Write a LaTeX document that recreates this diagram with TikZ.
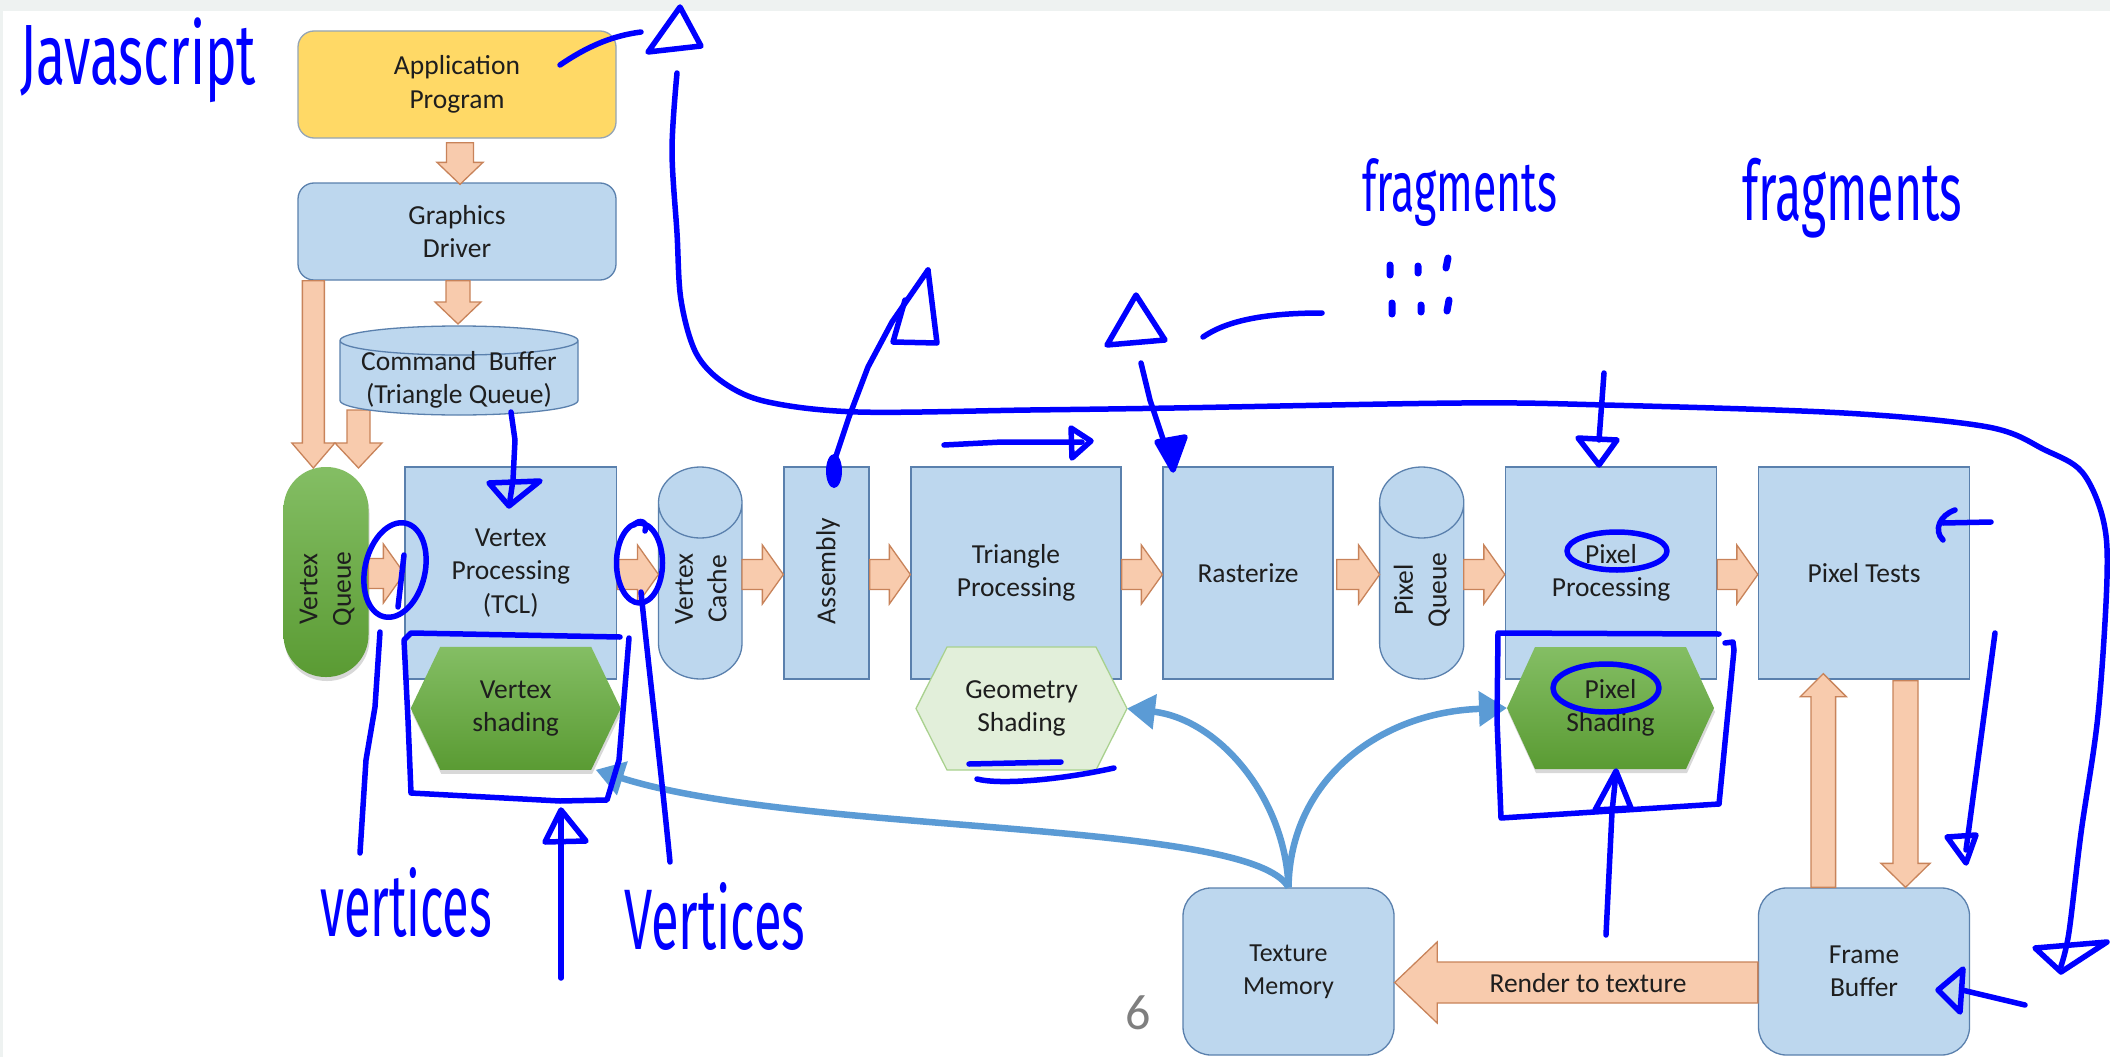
\documentclass[tikz,border=0pt]{standalone}
\usepackage{fontspec}
\setmainfont{Carlito}
\newfontfamily\handfont{Fira Sans}
\usepackage{graphicx}
\usetikzlibrary{calc,arrows.meta,shadows}

\definecolor{boxfill}{HTML}{BDD7EE}
\definecolor{boxline}{HTML}{5A80AD}
\definecolor{appfill}{HTML}{FFD966}
\definecolor{appline}{HTML}{95A5B5}
\definecolor{ofill}{HTML}{F8CBAD}
\definecolor{oline}{HTML}{C8835A}
\definecolor{gsfill}{HTML}{E2EFDA}
\definecolor{gsline}{HTML}{A9D18E}
\definecolor{gtop}{HTML}{84BE64}
\definecolor{gbot}{HTML}{5A9B33}
\definecolor{lblue}{HTML}{5B9BD5}
\definecolor{hblue}{HTML}{0000FF}
\definecolor{band}{HTML}{EEF2F1}
\definecolor{numgray}{HTML}{7F7F7F}
\definecolor{txt}{HTML}{1E1E1E}

\newcommand{\lblfont}{\fontsize{27.5pt}{33.5pt}\selectfont}

\tikzset{
  lbl/.style={font=\lblfont, text=txt, align=center, inner sep=0pt},
  sqbox/.style={lbl, draw=boxline, fill=boxfill, line width=1.3pt},
  appbox/.style={lbl, draw=appline, fill=appfill, line width=1.3pt, rounded corners=16pt},
  holder/.style={inner sep=0pt, outer sep=0pt},
  cylstyle/.style={draw=boxline, fill=boxfill, line width=1.3pt},
  oarrow/.style={draw=oline, fill=ofill, line width=1.3pt, line join=miter},
  greenfill/.style={top color=gtop, bottom color=gbot, draw=none,
     drop shadow={shadow xshift=1pt, shadow yshift=-4pt, opacity=0.3}},
  gsstyle/.style={fill=gsfill, draw=gsline, line width=1.3pt},
  texcurve/.style={draw=lblue, line width=6.5pt, -{Triangle[length=28pt,width=34pt]}},
  hand/.style={draw=hblue, line width=5.5pt, line cap=round, line join=round},
  handtxt/.style={text=hblue, font=\handfont, inner sep=0pt, anchor=north west},
}

% block arrows: #1 from, #2 to, #3 shaft half width, #4 head half width, #5 head length
\newcommand{\arrR}[5]{\draw[oarrow] let \p1=(#1), \p2=(#2) in
  (\x1,\y1+#3) -- (\x2-#5,\y1+#3) -- (\x2-#5,\y1+#4) -- (\x2,\y1) -- (\x2-#5,\y1-#4) -- (\x2-#5,\y1-#3) -- (\x1,\y1-#3) -- cycle;}
\newcommand{\arrL}[5]{\draw[oarrow] let \p1=(#1), \p2=(#2) in
  (\x1,\y1+#3) -- (\x2+#5,\y1+#3) -- (\x2+#5,\y1+#4) -- (\x2,\y1) -- (\x2+#5,\y1-#4) -- (\x2+#5,\y1-#3) -- (\x1,\y1-#3) -- cycle;}
\newcommand{\arrD}[5]{\draw[oarrow] let \p1=(#1), \p2=(#2) in
  (\x1-#3,\y1) -- (\x1-#3,\y2+#5) -- (\x1-#4,\y2+#5) -- (\x1,\y2) -- (\x1+#4,\y2+#5) -- (\x1+#3,\y2+#5) -- (\x1+#3,\y1) -- cycle;}
\newcommand{\arrU}[5]{\draw[oarrow] let \p1=(#1), \p2=(#2) in
  (\x1-#3,\y1) -- (\x1-#3,\y2-#5) -- (\x1-#4,\y2-#5) -- (\x1,\y2) -- (\x1+#4,\y2-#5) -- (\x1+#3,\y2-#5) -- (\x1+#3,\y1) -- cycle;}
% cylinder: #1 node, #2 x radius, #3 y radius
\newcommand{\cylshape}[3]{\path[cylstyle] let \p1=(#1.north west), \p2=(#1.south east) in
  (\x1,\y1-#3) -- (\x1,\y2+#3) arc[start angle=180, end angle=360, x radius=#2, y radius=#3]
  -- (\x2,\y1-#3) arc[start angle=0, end angle=180, x radius=#2, y radius=#3] -- cycle
  (\x1,\y1-#3) arc[start angle=180, end angle=360, x radius=#2, y radius=#3];}
% hexagon: #1 node, #2 inset, #3 style
\newcommand{\hexshape}[3]{\path[#3] let \p1=(#1.north west), \p2=(#1.south east), \p3=(#1.center) in
  (\x1,\y3) -- (\x1+#2,\y1) -- (\x2-#2,\y1) -- (\x2,\y3) -- (\x2-#2,\y2) -- (\x1+#2,\y2) -- cycle;}

\begin{document}
\begin{tikzpicture}[x=1pt,y=-1pt]
\useasboundingbox (0,0) rectangle (2110,1057);
\fill[white] (0,0) rectangle (2110,1057);
\fill[band] (0,0) rectangle (2110,11);
\fill[band] (0,0) rectangle (3,1057);

% ---------- top column ----------
\node[appbox, minimum width=318pt, minimum height=107pt] (app) at (457,84.5) {Application\\Program};
\node[sqbox, rounded corners=16pt, minimum width=318pt, minimum height=97pt] (gd) at (457,231.5) {Graphics\\Driver};

\node[holder, minimum width=238pt, minimum height=89pt] (cb) at (459,370.5) {};

% ---------- main row ----------
\node[holder, minimum width=85pt, minimum height=210pt, rounded corners=42pt, top color=gtop, bottom color=gbot,
      drop shadow={shadow xshift=1pt, shadow yshift=-4pt, opacity=0.3}] (vq) at (326,572) {};
\node[lbl, rotate=90] (vqt) at (327,589) {Vertex\\Queue};

\node[sqbox, minimum width=211.5pt, minimum height=212pt] (vp) at (510.75,573) {Vertex\\Processing\\(TCL)};
\node[holder, minimum width=83.5pt, minimum height=212pt] (vc) at (700.25,573) {};
\cylshape{vc}{41.75pt}{35.5pt}
\node[lbl, rotate=90] (vct) at (701,589) {Vertex\\Cache};
\node[sqbox, minimum width=85pt, minimum height=212pt] (asm) at (826.5,573) {};
\node[lbl, rotate=90] (asmt) at (828,571) {Assembly};
\node[sqbox, minimum width=210pt, minimum height=212pt] (tp) at (1016,573) {Triangle\\Processing};
\node[sqbox, minimum width=170pt, minimum height=212pt] (ras) at (1248,573) {Rasterize};
\node[holder, minimum width=84.2pt, minimum height=212pt] (pq) at (1421.7,573) {};
\cylshape{pq}{42.1pt}{35.5pt}
\node[lbl, rotate=90] (pqt) at (1422,590) {Pixel\\Queue};
\node[sqbox, minimum width=211pt, minimum height=212pt] (pp) at (1611,573) {Pixel\\Processing};
\node[sqbox, minimum width=211pt, minimum height=212pt] (pt) at (1864,573) {Pixel Tests};

% ---------- bottom ----------
\node[sqbox, rounded corners=28pt, minimum width=211pt, minimum height=167pt, font=\fontsize{26pt}{33pt}\selectfont] (tm) at (1288.5,971.5) {Texture\\Memory};
\node[sqbox, rounded corners=28pt, minimum width=211pt, minimum height=167pt] (fb) at (1864,971.5) {Frame\\Buffer};

% ---------- block arrows ----------
\arrD{$(app.south)+(3,4)$}{$(gd.north)+(0,2)$}{13.5pt}{23pt}{22pt}
\arrD{$(gd.south)+(1,0)$}{$(cb.north)+(0,-2)$}{12pt}{23pt}{22pt}
\arrD{$(gd.south west)+(16,0)$}{$(vq.north)+(0,1)$}{11pt}{21.5pt}{25pt}
\arrD{$(cb.south west)+(18.5,-5)$}{$(vq.north)+(0,1)$}{11.5pt}{23.5pt}{25pt}
\cylshape{cb}{119pt}{14.5pt}
\node[lbl] (cbt) at (459,380) {Command~~Buffer\\(Triangle Queue)};

\arrR{$(vq.east)+(0,1.5)$}{vp.west}{15pt}{29.5pt}{21pt}
\arrR{$(vp.east)+(0,1.5)$}{vc.west}{15pt}{29.5pt}{21pt}
\arrR{$(vc.east)+(0,1.5)$}{asm.west}{15pt}{29.5pt}{21pt}
\arrR{$(asm.east)+(0,1.5)$}{tp.west}{15pt}{29.5pt}{21pt}
\arrR{$(tp.east)+(0,1.5)$}{ras.west}{15pt}{29.5pt}{21pt}
\arrR{$(ras.east)+(3,1.5)$}{pq.west}{15pt}{29.5pt}{21pt}
\arrR{$(pq.east)+(0,1.5)$}{pp.west}{15pt}{29.5pt}{21pt}
\arrR{$(pp.east)+(0,1.5)$}{pt.west}{15pt}{29.5pt}{21pt}

\arrU{$(fb.north)+(-40.7,0)$}{$(pt.south)+(-40.7,-6)$}{12.3pt}{23pt}{23pt}
\arrD{$(pt.south)+(41.5,1)$}{fb.north}{12.5pt}{24.5pt}{24pt}
\arrL{$(fb.west)+(0,11)$}{tm.east}{20.5pt}{40.5pt}{42.5pt}
\node[lbl] (rtt) at (1588,983) {Render to texture};

% ---------- hexagons ----------
\node[holder, minimum width=210pt, minimum height=123pt] (vs) at (515.7,708.3) {};
\hexshape{vs}{29.5pt}{greenfill}
\node[lbl] (vst) at (vs) {Vertex\\shading};
\node[holder, minimum width=211pt, minimum height=123pt] (gs) at (1021.5,708.5) {};
\hexshape{gs}{31pt}{gsstyle}
\node[lbl] (gst) at (gs) {Geometry\\Shading};
\node[holder, minimum width=207pt, minimum height=122pt] (ps) at (1610.5,708) {};
\hexshape{ps}{28pt}{greenfill}
\node[lbl] (pst) at (ps) {Pixel\\Shading};

% ---------- texture connectors ----------
\draw[texcurve] (tm.north) .. controls +(-38,-68) and +(204,65) .. ($(vs.south east)+(-25,0)$);
\draw[texcurve] (tm.north) .. controls +(-3,-88) and +(93,11) .. (gs.east);
\draw[texcurve] (tm.north) .. controls +(1.5,-108) and +(-127,4) .. (ps.west);

\node[font=\fontsize{50pt}{50pt}\selectfont, text=numgray, inner sep=0pt] (pg) at (1138.5,1013) {6};

% ---------- hand-drawn annotations ----------
\node[handtxt] (js) at (20,18) {\resizebox*{236pt}{85pt}{Javascript}};
\node[handtxt] (fr1) at (1362,158) {\resizebox*{195pt}{68pt}{fragments}};
\node[handtxt] (fr2) at (1742,158) {\resizebox*{220pt}{80pt}{fragments}};
\node[handtxt] (vt1) at (320,867) {\resizebox*{172pt}{70pt}{vertices}};
\node[handtxt] (vt2) at (624,882) {\resizebox*{181pt}{68pt}{Vertices}};

\draw[hand] (560,65) .. controls (585,48) and (610,36) .. (641,32);
\draw[hand] (680,7) -- (648,52) -- (701,46) -- cycle;
\draw[hand] plot[smooth, tension=0.55] coordinates {(677,73) (672,150) (677,233) (681,300) (696,353) (724,383) (768,402) (858,412) (1030,410) (1174,408) (1461,403) (1605,405) (1844,413) (1988,427) (2045,450) (2082,472) (2103,519) (2107,578) (2098,715) (2081,833) (2069,932) (2061,966)};
\draw[hand] (2035,948) -- (2107,942) -- (2061,972) -- cycle;

\draw[hand] (834,462) -- (849,417) -- (868,367) -- (892,322) -- (928,270);
\draw[hand] (928,270) -- (937,343) -- (893,342) -- (905,300);
\fill[hblue] (834,471) ellipse [x radius=8, y radius=17];

\draw[hand] (1136,295) -- (1107,345) -- (1165,340) -- cycle;
\draw[hand] (1203,337) .. controls (1225,322) and (1260,313) .. (1322,313);
\draw[hand] (1141,363) -- (1150,400) -- (1165,445);
\draw[hand, fill=hblue] (1157,442) -- (1185,437) -- (1173,470) -- cycle;

\draw[hand, line width=7pt] (1390,265) -- (1390,275) (1418,266) -- (1418,273) (1448,258) -- (1446,268)
  (1392,303) -- (1392,314) (1421,305) -- (1421,312) (1449,300) -- (1447,311);

\draw[hand] (944,445) -- (1002,442) -- (1082,442);
\draw[hand] (1071,428) -- (1091,441) -- (1072,458) -- cycle;

\draw[hand] (1604,373) -- (1599,440);
\draw[hand] (1578,438) -- (1617,440) -- (1599,465) -- cycle;

\draw[hand] (511,412) -- (515,440) -- (513,480) -- (510,500);
\draw[hand] (489,483) -- (540,481) -- (509,506) -- cycle;

\draw[hand, rotate around={-13:(395,570)}] (395,570) ellipse [x radius=30, y radius=48];
\draw[hand] (404,555) -- (398,607);
\draw[hand] (639.5,563) ellipse [x radius=23, y radius=40];
\draw[hand] (634,525) .. controls (640,518) and (648,522) .. (645,531);
\draw[hand] (641,592) .. controls (650,680) and (660,760) .. (670,862);
\draw[hand] (380,632) -- (375,707) -- (366,760) -- (360,853);

\draw[hand] (620,637) -- (411,633) -- (404,640) -- (408,720) -- (411,793) -- (560,801) -- (607,800) -- (619,760) -- (629,638);
\draw[hand] (561,978) -- (561,812);
\draw[hand] (545,842) -- (561,810) -- (586,841) -- cycle;

\draw[hand] (1719,634) -- (1498,633) -- (1497,720) -- (1501,818) -- (1719,804) -- (1734,650) -- (1733,642) -- (1725,643);
\draw[hand] (1606,935) -- (1612,812) -- (1616,773);
\draw[hand] (1595,810) -- (1616,771) -- (1631,808) -- cycle;

\draw[hand] (1617,551) ellipse [x radius=50, y radius=19];
\draw[hand] (1606,688) ellipse [x radius=53, y radius=24];

\draw[hand] (969,764) -- (1061,762);
\draw[hand] (1114,768) .. controls (1060,780) and (1000,785) .. (977,779);

\draw[hand] (1991,522) -- (1943,523);
\draw[hand] (1955,510) .. controls (1940,515) and (1933,530) .. (1943,540);

\draw[hand] (1995,633) -- (1966,850);
\draw[hand] (1947,837) -- (1976,835) -- (1966,863) -- cycle;

\draw[hand] (2025,1005) -- (1962,990);
\draw[hand] (1963,969) -- (1938,990) -- (1960,1012) -- cycle;
\end{tikzpicture}
\end{document}
